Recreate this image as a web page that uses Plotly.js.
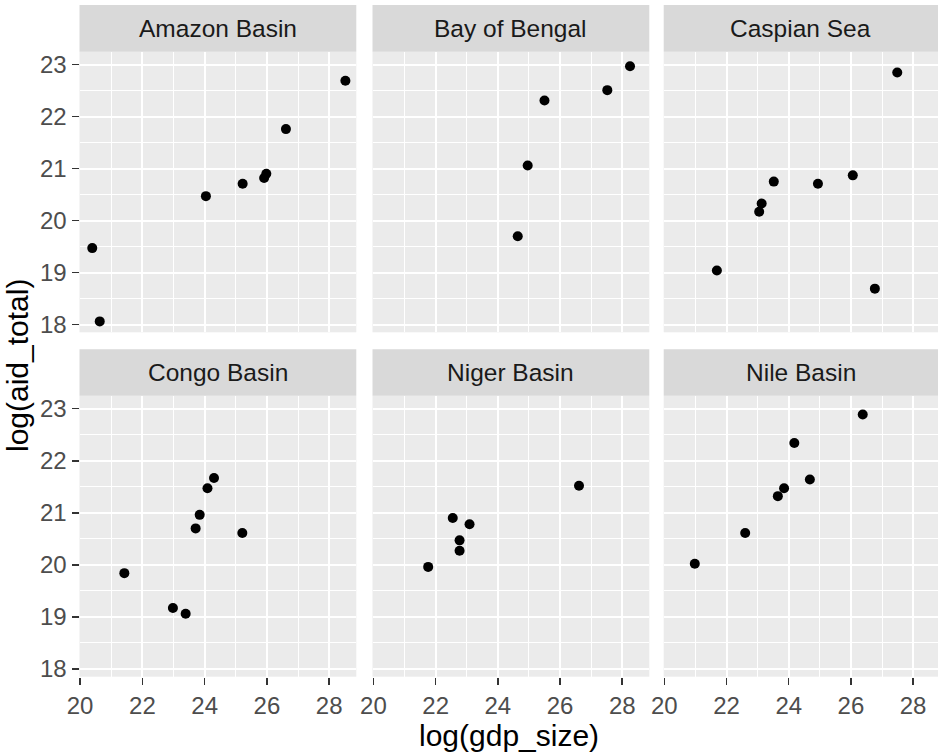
<!DOCTYPE html>
<html>
<head>
<meta charset="utf-8">
<script src="https://cdn.plot.ly/plotly-3.0.1.min.js"></script>
<style>html,body{margin:0;padding:0;background:#fff;}#chart{width:938px;height:754px;}</style>
</head>
<body>
<div id="chart"></div>
<script>
// Facet categories
const basins = ["Amazon Basin", "Bay of Bengal", "Caspian Sea", "Congo Basin", "Niger Basin", "Nile Basin"];

// log(gdp_size) / log(aid_total) per basin
const amazon_x = [28.52, 26.61, 25.98, 25.91, 25.22, 24.04, 20.39, 20.63];
const amazon_y = [22.69, 21.76, 20.90, 20.82, 20.71, 20.47, 19.47, 18.06];

const bengal_x = [28.25, 27.52, 25.50, 24.96, 24.64];
const bengal_y = [22.97, 22.51, 22.31, 21.06, 19.70];

const caspian_x = [27.49, 26.06, 24.94, 23.52, 23.13, 23.05, 21.69, 26.77];
const caspian_y = [22.85, 20.87, 20.71, 20.75, 20.33, 20.17, 19.04, 18.69];

const congo_x = [24.30, 24.09, 23.84, 23.71, 25.21, 21.42, 22.98, 23.39];
const congo_y = [21.67, 21.47, 20.96, 20.70, 20.61, 19.84, 19.17, 19.06];

const niger_x = [26.61, 22.55, 23.09, 22.77, 22.77, 21.76];
const niger_y = [21.52, 20.90, 20.78, 20.47, 20.27, 19.96];

const nile_x = [26.38, 24.18, 24.68, 23.85, 23.65, 22.60, 20.98];
const nile_y = [22.89, 22.34, 21.64, 21.47, 21.32, 20.61, 20.02];

const xTickVals = [20, 22, 24, 26, 28];
const yTickVals = [18, 19, 20, 21, 22, 23];

const seriesX = [amazon_x, bengal_x, caspian_x, congo_x, niger_x, nile_x];
const seriesY = [amazon_y, bengal_y, caspian_y, congo_y, niger_y, nile_y];

const W = 938, H = 754;
const colDom = [[79.5 / W, 356.3 / W], [372.5 / W, 649.3 / W], [663.7 / W, 1]];
const xRanges = [[19.98, 28.87], [19.97, 28.87], [19.98, 28.80]];
const rowDom = [[1 - 332.3 / H, 1 - 51.7 / H], [1 - 676.7 / H, 1 - 395.7 / H]];
const stripDom = [[1 - 51.7 / H, 1 - 5 / H], [1 - 395.7 / H, 1 - 349.3 / H]];

const FONT = "Liberation Sans, Arial, sans-serif";
const TICK_SIZE = 24, STRIP_SIZE = 24.5, TITLE_SIZE = 30;
const traces = [];
const layout = {
  width: W, height: H,
  margin: {l: 0, r: 0, t: 0, b: 0},
  paper_bgcolor: "#ffffff",
  plot_bgcolor: "#EBEBEB",
  showlegend: false,
  font: {family: FONT, color: "#4D4D4D", size: TICK_SIZE},
  shapes: [],
  annotations: []
};

for (let i = 0; i < 6; i++) {
  const r = Math.floor(i / 3), c = i % 3;
  const sx = i === 0 ? "" : String(i + 1);
  traces.push({
    type: "scatter", mode: "markers",
    x: seriesX[i], y: seriesY[i],
    xaxis: "x" + sx, yaxis: "y" + sx,
    marker: {color: "#000000", size: 10},
    hoverinfo: "x+y"
  });
  const bottom = r === 1, left = c === 0;
  layout["xaxis" + sx] = {
    domain: colDom[c], anchor: "y" + sx, range: xRanges[c],
    tickmode: "array", tickvals: xTickVals,
    showticklabels: bottom, ticks: bottom ? "outside" : "",
    ticklen: 7, tickwidth: 1.5, tickcolor: "#333333",
    showgrid: true, gridcolor: "#ffffff", gridwidth: 2,
    minor: {tickmode: "array", tickvals: [21, 23, 25, 27], showgrid: true, gridcolor: "#ffffff", gridwidth: 1, ticks: ""},
    zeroline: false, showline: false, fixedrange: true,
    tickfont: {family: FONT, size: TICK_SIZE, color: "#4D4D4D"}
  };
  layout["yaxis" + sx] = {
    domain: rowDom[r], anchor: "x" + sx, range: [17.85, 23.25],
    tickmode: "array", tickvals: yTickVals,
    showticklabels: left, ticks: left ? "outside" : "",
    ticklen: 7, tickwidth: 1.5, tickcolor: "#333333",
    showgrid: true, gridcolor: "#ffffff", gridwidth: 2,
    minor: {tickmode: "array", tickvals: [18.5, 19.5, 20.5, 21.5, 22.5], showgrid: true, gridcolor: "#ffffff", gridwidth: 1, ticks: ""},
    zeroline: false, showline: false, fixedrange: true,
    tickfont: {family: FONT, size: TICK_SIZE, color: "#4D4D4D"}
  };
  layout.shapes.push({
    type: "rect", xref: "paper", yref: "paper", layer: "below",
    x0: colDom[c][0], x1: colDom[c][1], y0: stripDom[r][0], y1: stripDom[r][1],
    fillcolor: "#D9D9D9", line: {width: 0}
  });
  layout.annotations.push({
    xref: "paper", yref: "paper",
    x: (colDom[c][0] + colDom[c][1]) / 2, y: (stripDom[r][0] + stripDom[r][1]) / 2,
    xanchor: "center", yanchor: "middle", showarrow: false,
    text: basins[i], font: {family: FONT, size: STRIP_SIZE, color: "#1A1A1A"}
  });
}

layout.annotations.push({
  xref: "paper", yref: "paper", x: (79.5 + 938) / 2 / W, y: 1 - 735 / H,
  xanchor: "center", yanchor: "middle", showarrow: false,
  text: "log(gdp_size)", font: {family: FONT, size: TITLE_SIZE, color: "#000000"}
});
layout.annotations.push({
  xref: "paper", yref: "paper", x: 17 / W, y: 1 - 366 / H,
  xanchor: "center", yanchor: "middle", showarrow: false, textangle: -90,
  text: "log(aid_total)", font: {family: FONT, size: TITLE_SIZE, color: "#000000"}
});

Plotly.newPlot("chart", traces, layout, {displayModeBar: false, staticPlot: true});
</script>
</body>
</html>
